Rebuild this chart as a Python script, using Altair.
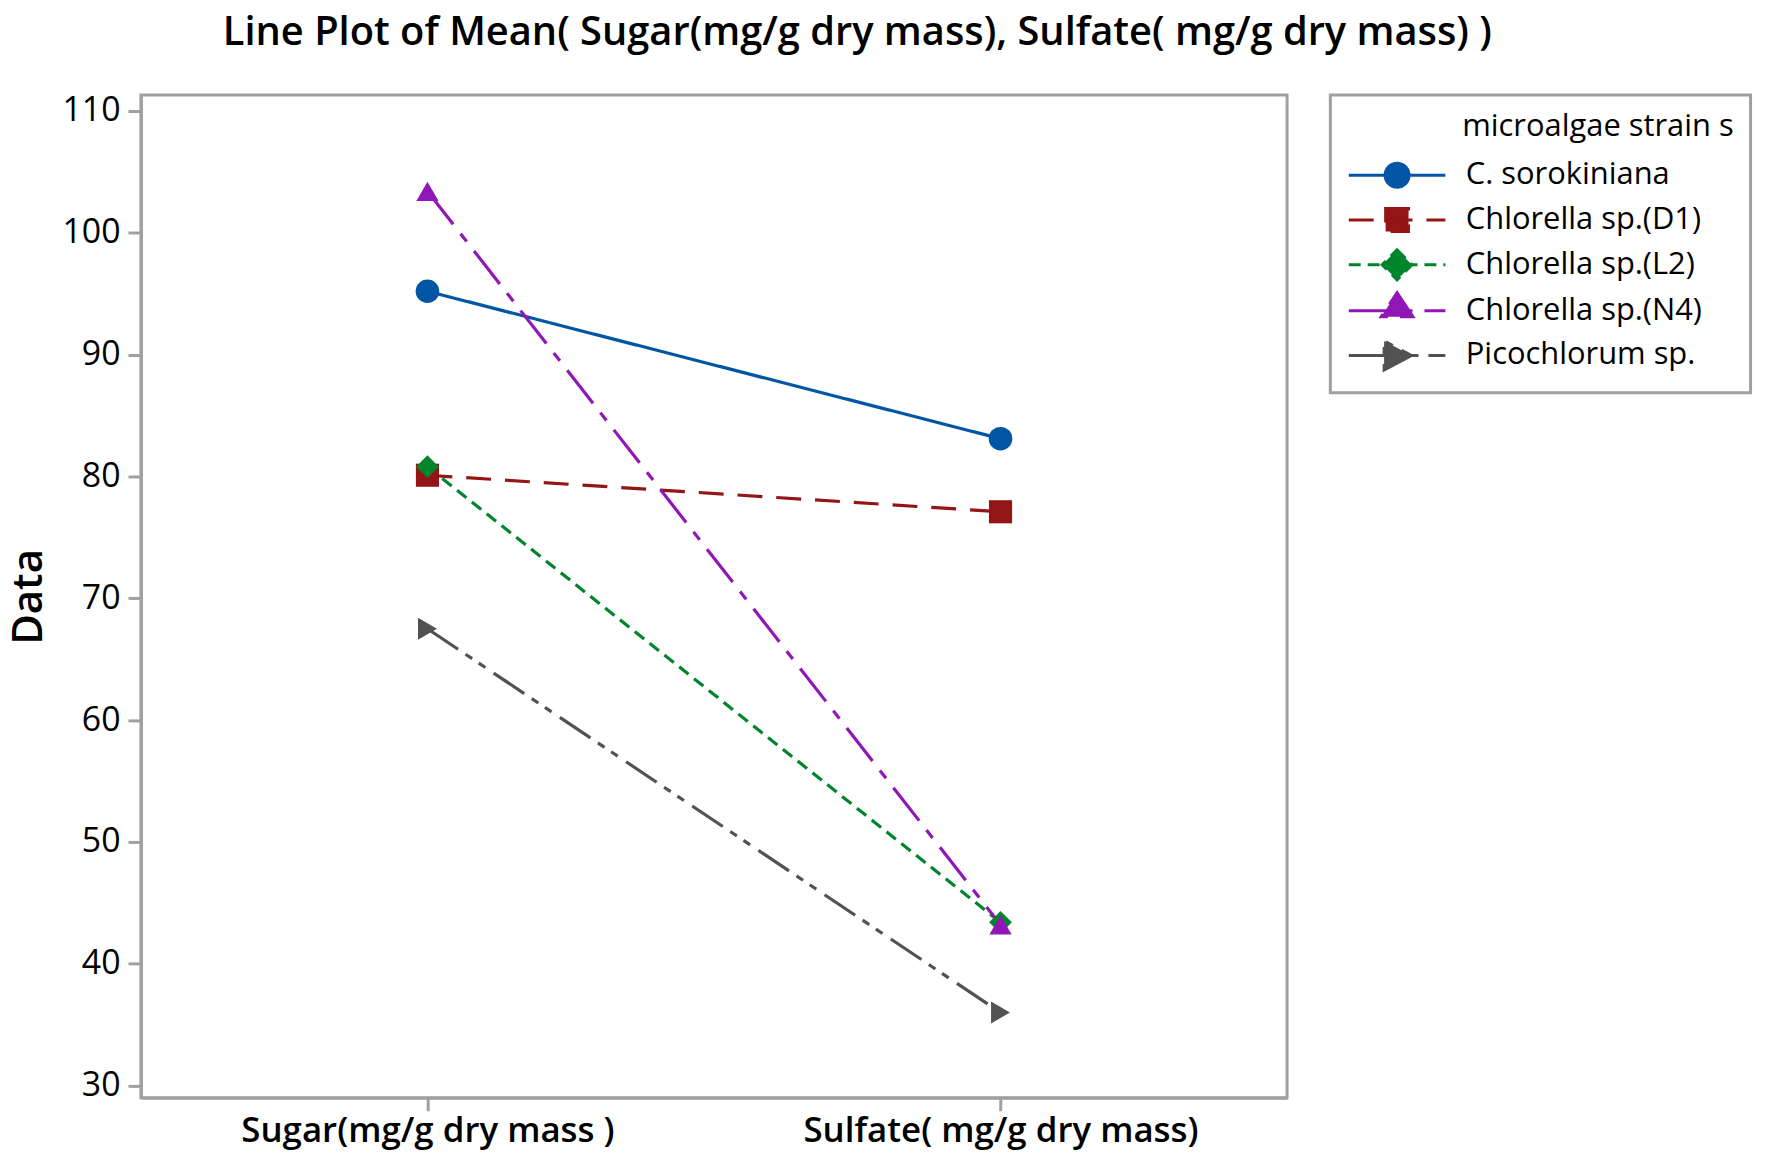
import altair as alt
import pandas as pd

categories = ["Sugar(mg/g dry mass )", "Sulfate( mg/g dry mass)"]
strains = ["C. sorokiniana", "Chlorella sp.(D1)", "Chlorella sp.(L2)",
           "Chlorella sp.(N4)", "Picochlorum sp."]
sugar = [95.2, 80.1, 80.8, 103.4, 67.5]
sulfate = [83.1, 77.1, 43.4, 43.2, 36.0]
y_ticks = [30, 40, 50, 60, 70, 80, 90, 100, 110]

colors = ["#0055A5", "#931515", "#00852C", "#9116B6", "#525252"]
dashes = [[1, 0], [25, 14], [12, 7], [42, 12, 10, 12], [37, 9, 8, 8, 8, 10]]
shapes = ["circle", "square", "diamond", "triangle-up", "triangle-right"]
sizes = [560, 480, 580, 900, 1000]

# legend glyphs: a line segment with the marker on it (pixel sizes -> symbol units)
U = 12.5         # px per symbol unit at symbolSize 625
HALF_LINE = 48.5
GHOST_X = 331.5
GHOST_TOP = 18.4
GHOST_BOT = 14.0


def _p(v):
    return f"{v / U:.3f}"


marker_paths = [
    f"M{_p(12)},0A{_p(12)},{_p(12)} 0 1,1 {_p(-12)},0A{_p(12)},{_p(12)} 0 1,1 {_p(12)},0Z",
    f"M{_p(-11.5)},{_p(-11.5)}H{_p(11.5)}V{_p(11.5)}H{_p(-11.5)}Z",
    f"M0,{_p(-15)}L{_p(15)},0L0,{_p(15)}L{_p(-15)},0Z",
    f"M0,{_p(-18)}L{_p(16)},{_p(6)}H{_p(-16)}Z",
    f"M{_p(14.5)},0L{_p(-13)},{_p(14.5)}V{_p(-14.5)}Z",
]
legend_paths = [
    f"M{_p(-HALF_LINE)},0H{_p(HALF_LINE)}" + m
    + f"M0,{_p(-GHOST_TOP)}M0,{_p(GHOST_BOT)}M{_p(GHOST_X)},0"
    for m in marker_paths
]

rows = []
for s, a, b in zip(strains, sugar, sulfate):
    rows.append({"measure": categories[0], "value": a, "strain": s})
    rows.append({"measure": categories[1], "value": b, "strain": s})
df = pd.DataFrame(rows)

FONT = "Open Sans"
GRAY = "#a0a0a0"

x = alt.X("measure:N", sort=categories,
          scale=alt.Scale(type="point", padding=0.5),
          axis=alt.Axis(title=None, labelAngle=0, labelFontSize=35,
                        labelFontWeight=600, labelPadding=3, labelLimit=600))
y = alt.Y("value:Q", scale=alt.Scale(domain=[29.0, 111.3], nice=False, zero=False),
          axis=alt.Axis(title="Data", values=y_ticks, titleFontSize=42,
                        titleFontWeight=600, titleX=-100, titleY=503.5,
                        titleAngle=270, titleBaseline="alphabetic",
                        titleAlign="center", labelFontSize=34, labelPadding=8))

color_none = alt.Color("strain:N", sort=strains,
                       scale=alt.Scale(domain=strains, range=colors), legend=None)

lines = alt.Chart(df).mark_line(strokeWidth=3.2).encode(
    x=x, y=y, color=color_none,
    strokeDash=alt.StrokeDash("strain:N", sort=strains,
                              scale=alt.Scale(domain=strains, range=dashes), legend=None),
    detail="strain:N",
)

points = alt.Chart(df).mark_point(filled=True, opacity=1).encode(
    x=x, y=y, color=color_none,
    shape=alt.Shape("strain:N", sort=strains,
                    scale=alt.Scale(domain=strains, range=shapes), legend=None),
    size=alt.Size("strain:N", sort=strains,
                  scale=alt.Scale(domain=strains, range=sizes), legend=None),
)

legend_def = alt.Legend(
    title="microalgae strain s", orient="none",
    legendX=1194.5, legendY=0, padding=17,
    strokeColor=GRAY, symbolSize=625, symbolStrokeWidth=3, symbolOpacity=1,
    symbolOffset=34.5, labelOffset=53.5,
    titleAnchor="end",
    rowPadding=0, titlePadding=17, labelLimit=500,
    titleLimit=600, labelFontSize=31, titleFontSize=31,
    titleFontWeight="normal", labelColor="black",
    titleColor="black", labelFont=FONT, titleFont=FONT)

# legend-only layer: no rows survive the filter, the legend comes from the scale domains
legend_layer = alt.Chart(df).transform_filter("false").mark_point(
    filled=True, strokeWidth=3, opacity=1).encode(
    x=x, y=y,
    fill=alt.Fill("strain:N", sort=strains,
                  scale=alt.Scale(domain=strains, range=colors), legend=legend_def),
    stroke=alt.Stroke("strain:N", sort=strains,
                      scale=alt.Scale(domain=strains, range=colors)),
    shape=alt.Shape("strain:N", sort=strains,
                    scale=alt.Scale(domain=strains, range=legend_paths)),
    strokeDash=alt.StrokeDash("strain:N", sort=strains,
                              scale=alt.Scale(domain=strains, range=dashes)),
)

chart = alt.layer(lines, points, legend_layer).resolve_scale(
    color="independent", shape="independent", strokeDash="independent",
    size="independent", fill="independent", stroke="independent",
).properties(
    width=1151, height=1007,
    autosize="none",
    padding={"left": 133.5, "top": 85, "right": 480, "bottom": 62},
    title=alt.TitleParams(
        text="Line Plot of Mean( Sugar(mg/g dry mass), Sulfate( mg/g dry mass) )",
        font=FONT, fontSize=40, fontWeight=600, color="black",
        anchor="middle", frame="group", dx=144, offset=41),
).configure(
    background="white",
    font=FONT,
).configure_view(
    stroke=GRAY, strokeWidth=3,
).configure_axis(
    domainColor=GRAY, domainWidth=3, tickColor=GRAY, tickWidth=3, tickSize=13,
    grid=False, labelColor="black", titleColor="black", labelFont=FONT,
    titleFont=FONT,
).configure_legend(
    strokeWidth=3,
)

chart.save("out.html", embed_options={"renderer": "svg", "actions": False})
